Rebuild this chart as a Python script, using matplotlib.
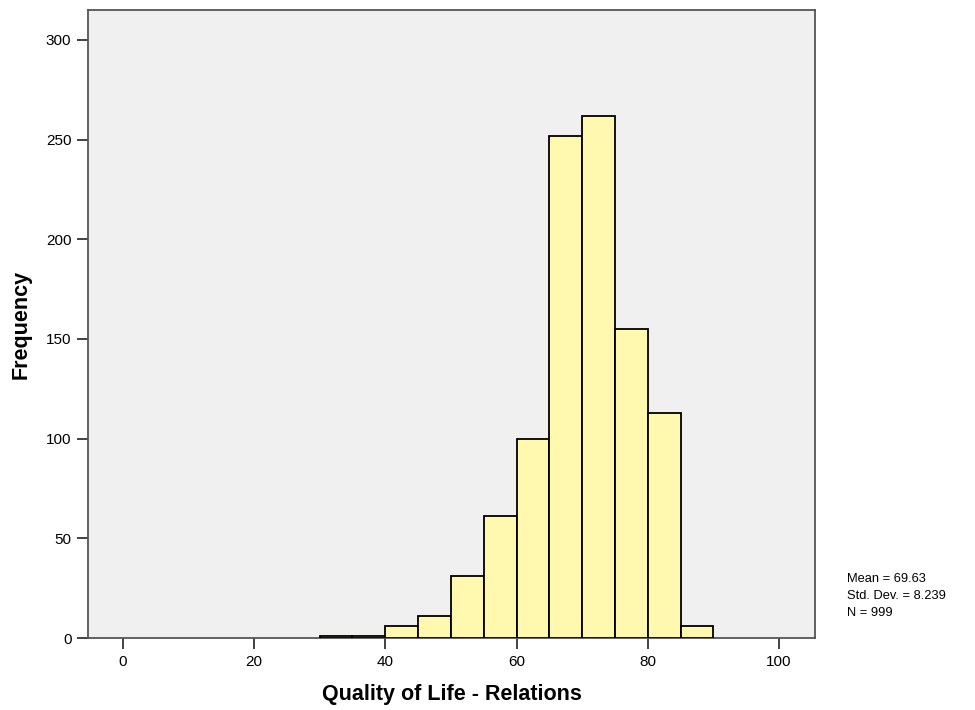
import matplotlib.pyplot as plt
import numpy as np

plt.rcParams['font.family'] = ['Liberation Sans', 'DejaVu Sans']

# Histogram bins (width 5) and counts
bin_edges = [30, 35, 40, 45, 50, 55, 60, 65, 70, 75, 80, 85, 90]
counts = [1, 1, 6, 11, 31, 61, 100, 252, 262, 155, 113, 6]
stats_lines = ['Mean = 69.63', 'Std. Dev. = 8.239', 'N = 999']

x_ticks = [0, 20, 40, 60, 80, 100]
y_ticks = [0, 50, 100, 150, 200, 250, 300]

fig = plt.figure(figsize=(9.75, 7.1), dpi=100)
ax = fig.add_axes([0.0903, 0.1014, 0.7457, 0.8846])
ax.set_facecolor('#F0F0F0')

lefts = np.array(bin_edges[:-1])
widths = np.diff(bin_edges)
ax.bar(lefts, counts, width=widths, align='edge', color='#FFF8AE',
       edgecolor='black', linewidth=1.3, zorder=3)

ax.set_xlim(-5.3, 105.5)
ax.set_ylim(0, 315)
ax.set_xticks(x_ticks)
ax.set_yticks(y_ticks)
ax.tick_params(direction='out', length=8, width=1.3, color='#333333',
               labelsize=11, pad=4)

for s in ax.spines.values():
    s.set_color('#555555')
    s.set_linewidth(1.3)

ax.set_xlabel('Quality of Life - Relations', fontsize=15.5, fontweight='bold', labelpad=11)
ax.set_ylabel('Frequency', fontsize=15.5, fontweight='bold', labelpad=10)

fig.text(0.869, 0.160, '\n'.join(stats_lines), fontsize=9.3, va='center',
         ha='left', linespacing=1.55)

fig.savefig('out.png', dpi=100)
